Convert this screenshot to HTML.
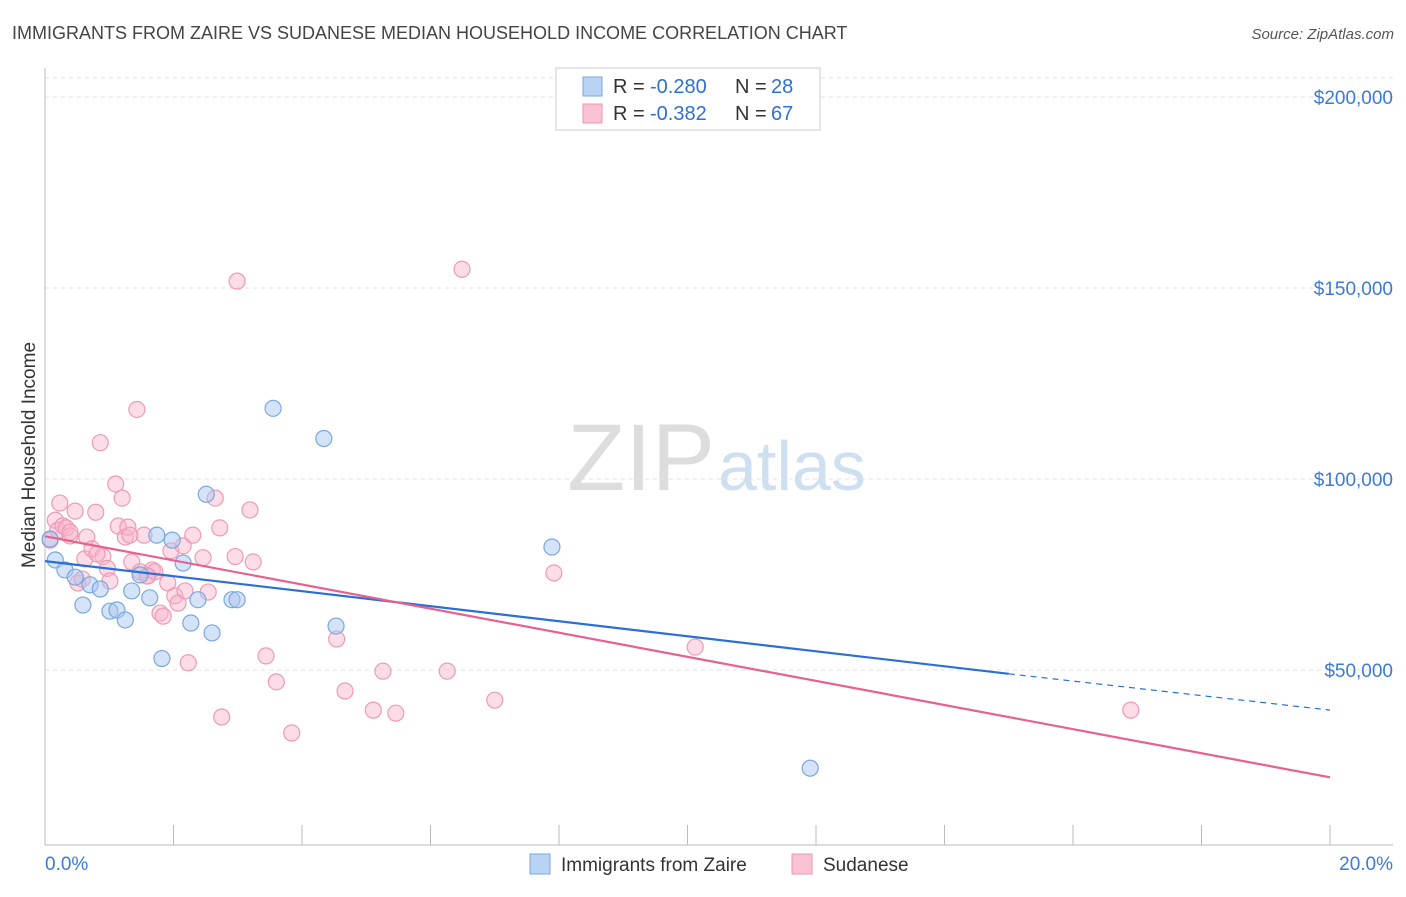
<!DOCTYPE html>
<html><head><meta charset="utf-8"><style>
body{margin:0;background:#fff;font-family:"Liberation Sans",sans-serif;}
svg text{font-family:"Liberation Sans",sans-serif;}
</style></head><body>
<svg id="c" width="1406" height="892" xmlns="http://www.w3.org/2000/svg">
<text x="12" y="39" font-size="18" fill="#444">IMMIGRANTS FROM ZAIRE VS SUDANESE MEDIAN HOUSEHOLD INCOME CORRELATION CHART</text>
<text x="1394" y="39" font-size="15" fill="#555" text-anchor="end" font-style="italic">Source: ZipAtlas.com</text>
<text x="35" y="455" font-size="19" fill="#333" text-anchor="middle" transform="rotate(-90 35 455)">Median Household Income</text>
<text x="715" y="490" font-size="95" fill="#ddd" text-anchor="end" font-family="Liberation Serif">ZIP</text>
<text x="718" y="490" font-size="70" fill="#cfdff2">atlas</text>
<g id="grid"></g><g id="pts"></g><g id="lines"></g>
<g>
<rect x="556" y="68" width="264" height="62" fill="#fff" stroke="#ccc"/>
<rect x="583" y="77" width="19" height="19" fill="#b9d3f5" stroke="#7aa7e0"/>
<rect x="583" y="104" width="19" height="19" fill="#f9c3d3" stroke="#ee94b0"/>
<text x="613" y="93" font-size="20" fill="#333">R =</text>
<text x="650" y="93" font-size="20" fill="#2f6fd6">-0.280</text>
<text x="735" y="93" font-size="20" fill="#333">N =</text>
<text x="771" y="93" font-size="20" fill="#2f6fd6">28</text>
<text x="613" y="120" font-size="20" fill="#333">R =</text>
<text x="650" y="120" font-size="20" fill="#2f6fd6">-0.382</text>
<text x="735" y="120" font-size="20" fill="#333">N =</text>
<text x="771" y="120" font-size="20" fill="#2f6fd6">67</text>
</g>
<g>
<rect x="530" y="854" width="20" height="20" fill="#b9d3f5" stroke="#7aa7e0"/>
<text x="561" y="871" font-size="19" fill="#333">Immigrants from Zaire</text>
<rect x="792" y="854" width="20" height="20" fill="#f9c3d3" stroke="#ee94b0"/>
<text x="823" y="871" font-size="19" fill="#333">Sudanese</text>
</g>
<text x="45" y="870" font-size="19" fill="#3b7ad9">0.0%</text>
<text x="1393" y="870" font-size="19" fill="#3b7ad9" text-anchor="end">20.0%</text>
</svg>
<script>
const yTicks=[50000,100000,150000,200000];
const yTickLabels=["$50,000","$100,000","$150,000","$200,000"];
const zaireX=[0.08,0.16,0.31,0.47,0.59,0.70,0.86,1.01,1.12,1.25,1.35,1.48,1.63,1.74,1.82,1.98,2.15,2.27,2.38,2.51,2.60,2.91,2.99,3.55,4.34,4.53,7.89,11.91];
const zaireY=[84300,78800,76200,74300,67000,72300,71200,65400,65700,63100,70700,74900,68900,85300,53000,84000,78000,62300,68400,96000,59700,68400,68400,118500,110600,61500,82200,24300];
const sudX=[0.08,0.16,0.20,0.23,0.28,0.33,0.39,0.47,0.51,0.62,0.65,0.73,0.79,0.86,0.90,0.97,1.01,1.10,1.14,1.20,1.25,1.29,1.35,1.43,1.48,1.54,1.60,1.67,1.71,1.79,1.84,1.91,1.96,2.02,2.07,2.15,2.23,2.30,2.46,2.54,2.65,2.72,2.75,2.96,2.99,3.19,3.24,3.44,3.60,3.84,4.54,4.67,5.11,5.26,5.46,6.26,6.49,7.00,7.92,10.12,16.90,0.58,0.81,1.32,1.59,2.18,0.39];
const sudY=[84000,89200,86600,93700,87700,87200,85100,91600,72800,79100,84800,81700,91300,109500,79700,76600,73300,98700,87700,95000,84800,87400,78300,118200,75700,85300,74600,76200,75700,64900,64100,72800,81200,69400,67500,82500,51900,85300,79400,70400,95000,87200,37700,79700,151800,91900,78300,53700,46900,33500,58100,44500,39500,49700,38700,49700,154900,42100,75400,56000,39500,73800,80400,85300,74600,70700,86100];
const trendZ=[[0,78500],[15,49000]], trendZd=[[15,49000],[20,39500]];
const trendS=[[0,85000],[20,21900]];
const X=v=>45+v*64.25, Y=v=>861-v/50000*191;
const NS="http://www.w3.org/2000/svg";
function mk(t,a,p){const e=document.createElementNS(NS,t);for(const k in a)e.setAttribute(k,a[k]);p.appendChild(e);return e;}
const g=document.getElementById('grid');
yTicks.forEach((t,i)=>{const l=mk('line',{x1:45,x2:1393,y1:Y(t),y2:Y(t),stroke:'#e2e2e2','stroke-dasharray':'4,4'},g);


const tx=mk('text',{x:1393,y:Y(t)+7,'font-size':19,fill:'#3b7ad9','text-anchor':'end'},g);tx.textContent=yTickLabels[i];

});
const topLine=mk('line',{x1:45,x2:1393,y1:Y(205000),y2:Y(205000),stroke:'#e2e2e2','stroke-dasharray':'4,4'},g);


const ax=mk('line',{x1:45,x2:45,y1:68,y2:845,stroke:'#bbb'},g);


const bx=mk('line',{x1:45,x2:1393,y1:845,y2:845,stroke:'#bbb'},g);


for(let i=0;i<=10;i++){const t=mk('line',{x1:X(i*2),x2:X(i*2),y1:825,y2:845,stroke:'#bbb'},g);

}
const p=document.getElementById('pts');
sudX.forEach((x,i)=>{const c=mk('circle',{cx:X(x),cy:Y(sudY[i]),r:8,fill:'rgba(248,180,202,0.45)',stroke:'#ee9ab4','stroke-width':1.2},p);

});
zaireX.forEach((x,i)=>{const c=mk('circle',{cx:X(x),cy:Y(zaireY[i]),r:8,fill:'rgba(170,200,240,0.5)',stroke:'#7aa7e0','stroke-width':1.2},p);

});
const L=document.getElementById('lines');
function ln(a,st,w,d,n){const e=mk('line',{x1:X(a[0][0]),y1:Y(a[0][1]),x2:X(a[1][0]),y2:Y(a[1][1]),stroke:st,'stroke-width':w},L);if(d)e.setAttribute('stroke-dasharray',d);

}
ln(trendZ,'#2b6fd6',2.2,null,'zaire-trend-line');
ln(trendZd,'#2b6fd6',1.2,'6,5','zaire-trend-extension');
ln(trendS,'#e8608e',2.2,null,'sudanese-trend-line');
</script>
</body></html>
